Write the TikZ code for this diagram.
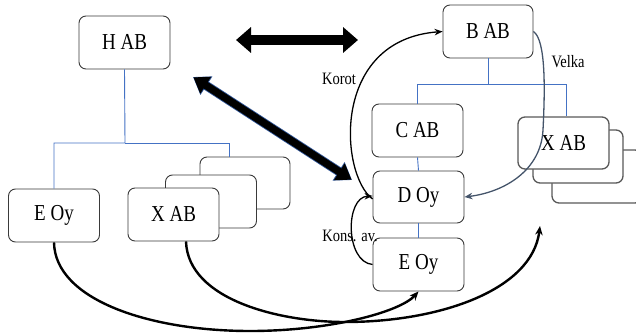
\documentclass[tikz,border=0pt]{standalone}
\usepackage{fontspec}
\setmainfont{Liberation Serif}
\usetikzlibrary{arrows.meta,calc}
\newcommand\tallt[1]{\scalebox{1}[1.2]{#1}}
\definecolor{treeblue}{HTML}{4472C4}
\definecolor{edgeblue}{HTML}{2F5597}
\definecolor{slate}{HTML}{44546A}
\definecolor{boxline}{HTML}{3A3A3A}
\definecolor{stackline}{HTML}{595959}
\tikzset{
  unit/.style={draw=boxline, line width=0.9pt, rounded corners=7pt, fill=white,
    minimum width=91pt, minimum height=53pt, inner sep=0pt,
    font=\fontsize{19}{22}\selectfont},
  stackbox/.style={unit, draw=stackline, line width=1.3pt},
  tree/.style={draw=treeblue, line width=0.9pt},
  lbl/.style={font=\fontsize{14.5}{17}\selectfont, inner sep=0pt},
  flow/.style={line width=1.3pt, -{Stealth[length=8pt,width=6.5pt]}},
  longflow/.style={line width=2.4pt, -{Stealth[length=9pt,width=7.5pt]}},
  bigtip/.tip={Triangle[length=15pt,width=25pt]},
  outertip/.tip={Triangle[length=16pt,width=21pt]},
  innertip/.tip={Triangle[length=14.5pt,width=19pt]},
}
\begin{document}
\begin{tikzpicture}[x=1pt,y=-1pt]
\useasboundingbox (0,0) rectangle (636,332);
\begin{scope}
\clip (0,0) rectangle (636,332);

% left group
\node[unit] (hab) at (124.5,42.5) {\tallt{H AB}};
\node[unit] (eoyl) at (54,215.5) {\tallt{E Oy}};
\node[unit, minimum width=90pt, minimum height=52pt] (xl3) at (245,183) {};
\node[unit] (xl2) at (211,201.5) {};
\node[unit] (xl1) at (173.5,214.5) {\tallt{X AB}};
\coordinate (lj) at (125,143);
\draw[tree] (hab.south) -- (lj) -| (eoyl.north);
\draw[tree] (lj) -| ([xshift=-16pt]xl3.north);

% right group
\node[unit, minimum width=90pt] (bab) at (488,31.5) {\tallt{B AB}};
\node[unit] (cab) at (417.5,130.5) {\tallt{C AB}};
\node[unit, minimum height=52pt] (doy) at (418.5,197) {\tallt{D Oy}};
\node[unit] (eoyr) at (418.5,264.5) {\tallt{E Oy}};
\node[stackbox, minimum width=90pt] (xr3) at (597,176.5) {};
\node[stackbox, minimum width=90pt] (xr2) at (578,156.5) {};
\node[stackbox, minimum height=52pt] (xr1) at (563.5,143) {\tallt{X AB}};
\coordinate (rj) at (488,84);
\draw[tree] (bab.south) -- (rj) -| (cab.north);
\draw[tree] (rj) -| ([xshift=2.5pt]xr1.north);
\draw[tree] (cab.south) -- (doy.north);
\draw[tree] (doy.south) -- (eoyr.north);

% heavy two-way arrows
\coordinate (ha) at (236,40);
\coordinate (hb) at (358,40);
\draw[line width=10pt, {bigtip}-{bigtip}] (ha) -- (hb);
\coordinate (da) at (193,77);
\coordinate (db) at (352,180);
\draw[edgeblue, line width=9.2pt, {outertip}-{outertip}] (da) -- (db);
\draw[black, line width=7.5pt, {innertip}-{innertip}] ($(da)!0.6pt!(db)$) -- ($(db)!0.6pt!(da)$);

% labelled links
\draw[flow] ([yshift=-2pt]doy.west) .. controls (340,175) and (330,40) .. (bab.west);
\node[lbl] (korot) at (339,79) {\tallt{Korot}};
\draw[flow] (eoyr.west) .. controls (345,262) and (345,197) .. ([yshift=1pt]doy.west);
\node[lbl] (kons) at (350,236) {\tallt{Kons. av.}};
\draw[flow, slate] (bab.east) .. controls (546,40) and (545,90) .. (543,130)
  .. controls (541,170) and (505,192) .. (doy.east);
\node[lbl] (velka) at (568,62) {\tallt{Velka}};

% lower links
\draw[longflow] (eoyl.south) .. controls (55,300) and (150,331) .. (250,331)
  .. controls (330,331) and (400,312) .. (eoyr.south);
\coordinate (tail) at (540,226);
\draw[longflow] ([xshift=12.5pt]xl1.south) .. controls (188,300) and (280,322) .. (345,322)
  .. controls (440,322) and (532,290) .. (tail);
\end{scope}
\end{tikzpicture}
\end{document}
